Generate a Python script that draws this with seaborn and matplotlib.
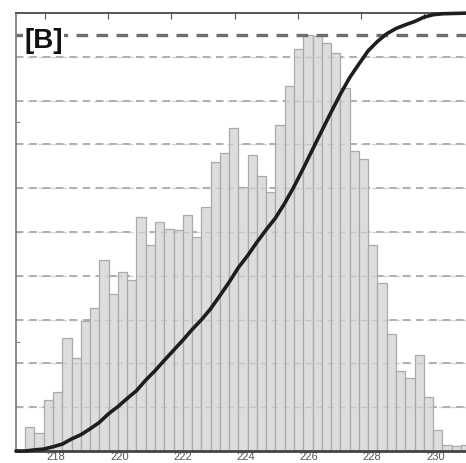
import numpy as np
import pandas as pd
import matplotlib
matplotlib.use("Agg")
import matplotlib.pyplot as plt
from matplotlib.transforms import ScaledTranslation
import seaborn as sns

# Histogram: first bin edge, bin width and bin heights (scaled 0-10)
bin_start = 217.37
bin_width = 0.2934
counts = [0.55, 0.41, 1.16, 1.35, 2.58, 2.12, 2.97, 3.26, 4.36, 3.58,
          4.09, 3.90, 5.34, 4.70, 5.23, 5.07, 5.05, 5.39, 4.89, 5.57,
          6.60, 6.80, 7.37, 6.03, 6.76, 6.28, 5.91, 7.44, 8.33, 9.18,
          9.50, 9.47, 9.32, 9.09, 8.29, 6.85, 6.67, 4.70, 3.84, 2.67,
          1.83, 1.67, 2.19, 1.23, 0.48, 0.14, 0.11, 0.14]
x_ticks = [218, 220, 222, 224, 226, 228, 230]
x_tick_labels = ["218", "220", "222", "224", "226", "228", "230"]
panel_label = "[B]"

sns.set_theme(style="white")
plt.rcParams["font.family"] = ["Liberation Sans", "DejaVu Sans"]

counts = np.asarray(counts)
edges = bin_start + bin_width * np.arange(len(counts) + 1)
centers = (edges[:-1] + edges[1:]) / 2
hist_df = pd.DataFrame({"value": centers, "count": counts})

# cumulative distribution of the histogram, on the same 0-10 scale
cdf = np.concatenate([[0.0], np.cumsum(counts) / counts.sum() * 10])
x_lo, x_hi = 217.08, 231.5
cdf_df = pd.DataFrame({"value": np.concatenate([[x_lo], edges, [x_hi]]),
                       "cdf": np.concatenate([[0.0], cdf, [10.0]])})

fig = plt.figure(figsize=(4.66, 4.63), dpi=100)
ax = fig.add_axes([16 / 466, 12 / 463, (x_hi - x_lo) * 31.6 / 466, 438 / 463])

# dashed horizontal grid
for level in range(1, 10):
    ax.axhline(level, color="#a0a0a0", lw=1.2, ls=(0, (4.5, 3.5)), zorder=0)

sns.histplot(data=hist_df, x="value", weights="count", bins=edges.tolist(),
             stat="count", color="#dddddd", edgecolor="#aaaaaa",
             linewidth=0.9, alpha=1.0, ax=ax, zorder=1)

# grid passes over the bars faintly
for level in range(1, 10):
    ax.axhline(level, color="#b5b5b5", lw=1.0, ls=(0, (4.5, 3.5)), zorder=2, alpha=0.6)

# line at the tallest bar
ax.axhline(counts.max(), color="#6e6e6e", lw=2.4, ls=(0, (3.5, 2.5)), zorder=3)

sns.lineplot(data=cdf_df, x="value", y="cdf", color="#1e1e1e", lw=2.6,
             ax=ax, zorder=4, clip_on=False)

ax.set_xlim(x_lo, x_hi)
ax.set_ylim(0, 10)
ax.set_xlabel("")
ax.set_ylabel("")

ax.set_xticks(x_ticks)
ax.set_xticklabels(x_tick_labels)
ax.set_yticks([2.5, 5, 7.5, 10])
ax.set_yticklabels([])
ax.tick_params(axis="x", direction="in", length=4, width=0.8, color="#555555",
               labelsize=8, labelcolor="#555555", pad=0.5, top=True, bottom=True)
ax.tick_params(axis="y", direction="in", length=3, width=0.8, color="#888888",
               left=True, right=False)
shift = ScaledTranslation(11 / 100, 0, fig.dpi_scale_trans)
for lbl in ax.get_xticklabels():
    lbl.set_transform(lbl.get_transform() + shift)

for side in ("top", "bottom", "left", "right"):
    ax.spines[side].set_visible(True)
ax.spines["top"].set_color("#555555")
ax.spines["top"].set_linewidth(1.4)
ax.spines["bottom"].set_color("#444444")
ax.spines["bottom"].set_linewidth(2.0)
ax.spines["left"].set_color("#777777")
ax.spines["left"].set_linewidth(1.2)
ax.spines["right"].set_visible(False)

ax.text(0.018, 0.935, panel_label, transform=ax.transAxes, fontsize=20,
        fontweight="bold", color="#111111", ha="left", va="center", zorder=6,
        bbox=dict(facecolor="white", edgecolor="none", pad=0.5))

fig.savefig("out.png", dpi=100)
